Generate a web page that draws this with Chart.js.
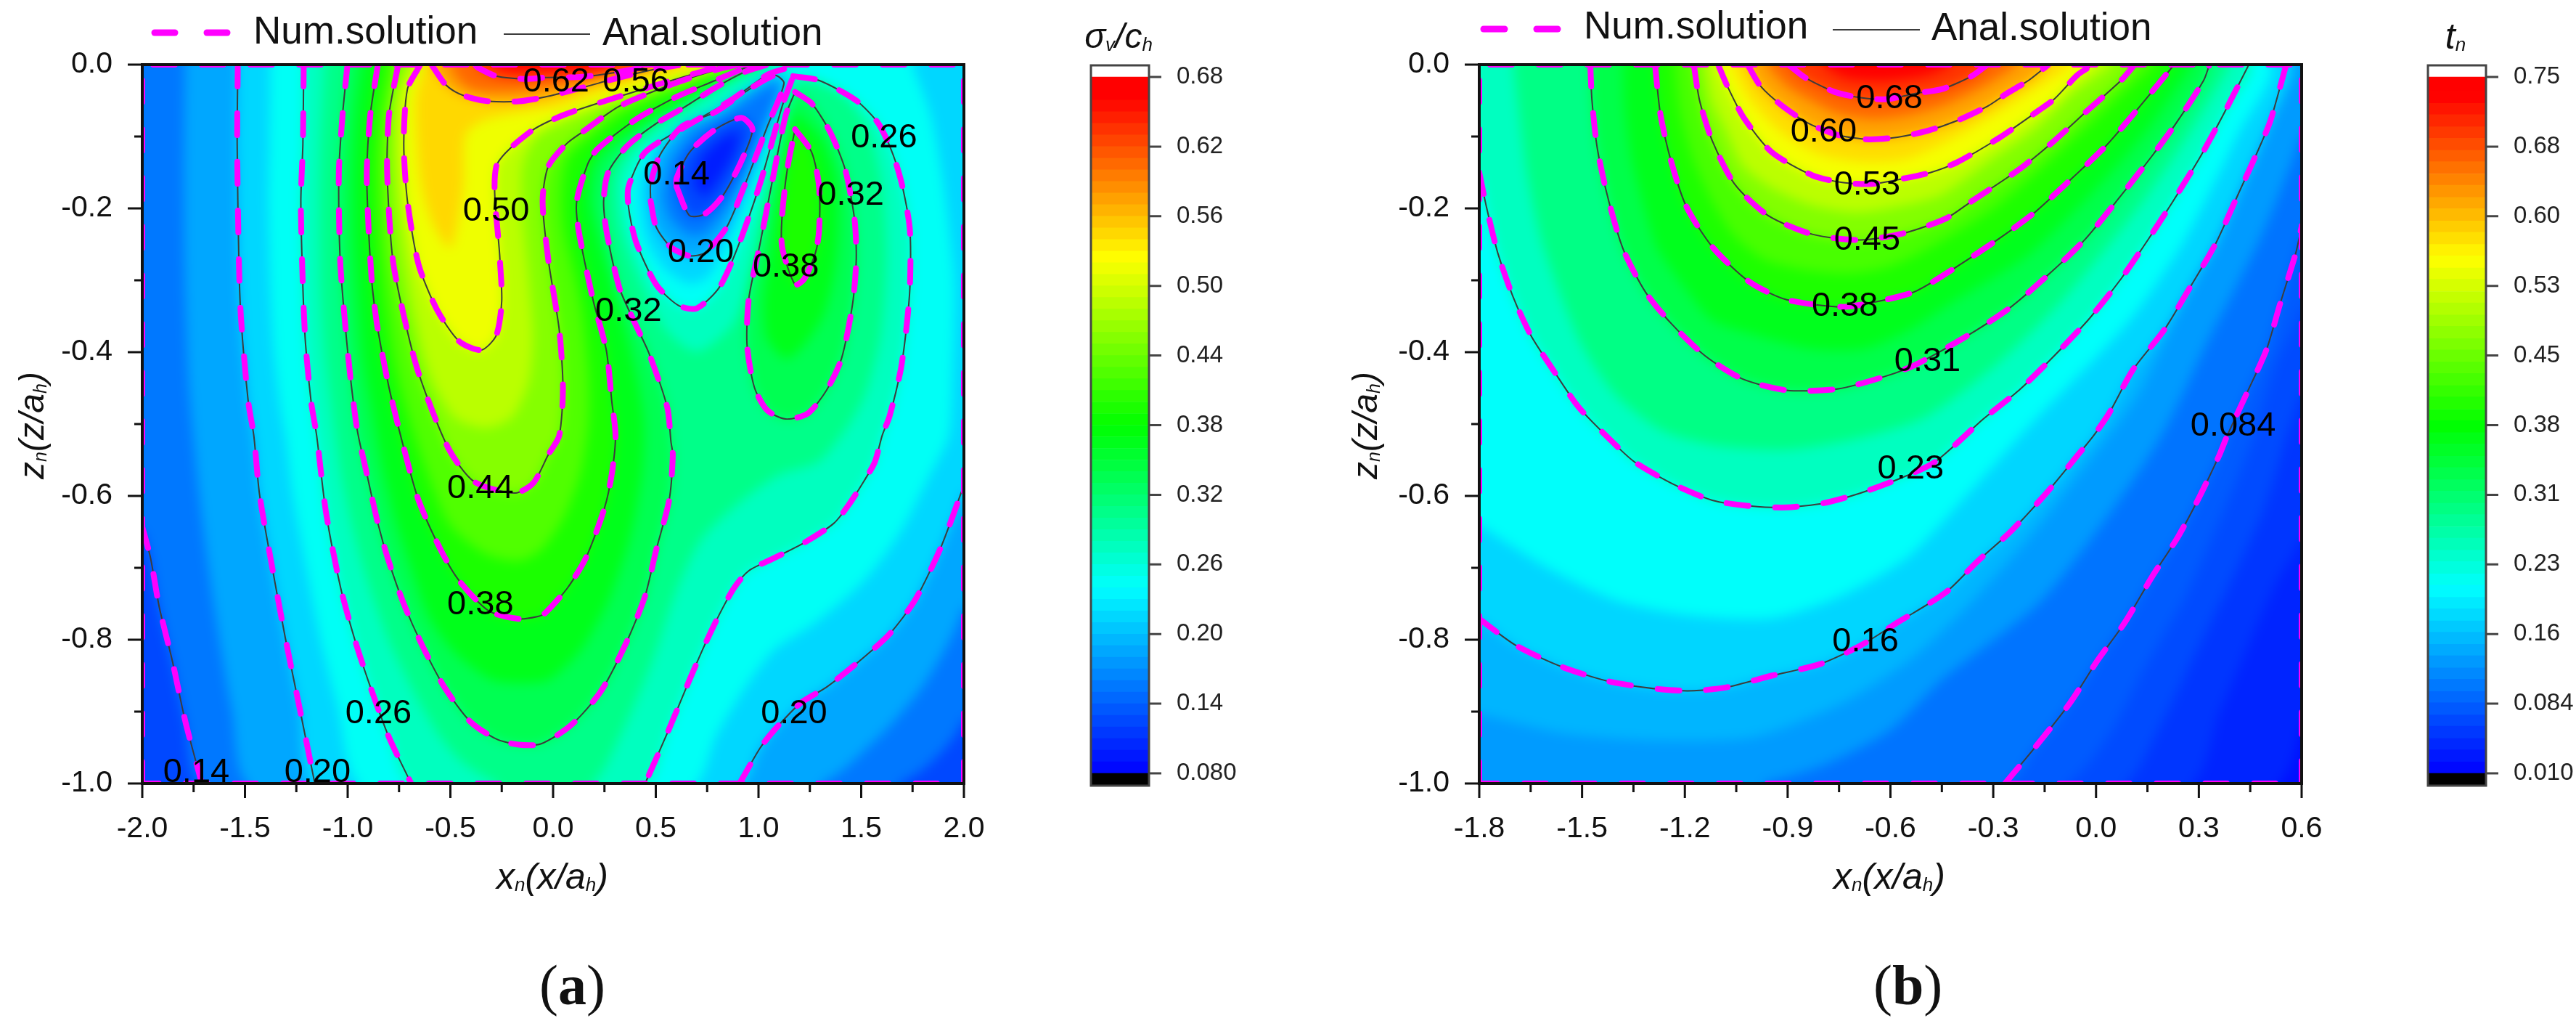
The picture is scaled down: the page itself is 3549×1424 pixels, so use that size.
<!DOCTYPE html>
<html>
<head>
<meta charset="utf-8">
<title>Contours</title>
<style>
  body { margin: 0; background: #fff; }
  canvas { position: absolute; top: 0; }
</style>
<script src="https://cdn.jsdelivr.net/npm/chart.js@4/dist/chart.umd.min.js"></script>
</head>
<body>
<canvas id="panelA" width="1480" height="1424" style="left:0"></canvas>
<canvas id="barA" width="400" height="1424" style="left:1490px"></canvas>
<canvas id="panelB" width="1480" height="1424" style="left:1780px"></canvas>
<canvas id="barB" width="217" height="1424" style="left:3332px"></canvas>
<script>
// ---------- axes ----------
const xTicksA = [-2, -1.75, -1.5, -1.25, -1, -0.75, -0.5, -0.25, 0, 0.25, 0.5, 0.75, 1, 1.25, 1.5, 1.75, 2];
const xLabelsA = ['-2.0', '', '-1.5', '', '-1.0', '', '-0.5', '', '0.0', '', '0.5', '', '1.0', '', '1.5', '', '2.0'];
const xTicksB = [-1.8, -1.65, -1.5, -1.35, -1.2, -1.05, -0.9, -0.75, -0.6, -0.45, -0.3, -0.15, 0, 0.15, 0.3, 0.45, 0.6];
const xLabelsB = ['-1.8', '', '-1.5', '', '-1.2', '', '-0.9', '', '-0.6', '', '-0.3', '', '0.0', '', '0.3', '', '0.6'];
const zTicks = [0, -0.1, -0.2, -0.3, -0.4, -0.5, -0.6, -0.7, -0.8, -0.9, -1];
const zLabels = ['0.0', '', '-0.2', '', '-0.4', '', '-0.6', '', '-0.8', '', '-1.0'];

// ---------- colour bars ----------
const barTicksA = [0.08, 0.14, 0.2, 0.26, 0.32, 0.38, 0.44, 0.5, 0.56, 0.62, 0.68];
const barLabelsA = ['0.080', '0.14', '0.20', '0.26', '0.32', '0.38', '0.44', '0.50', '0.56', '0.62', '0.68'];
const barLevelsA = [0.08, 0.09, 0.1, 0.11, 0.12, 0.13, 0.14, 0.15, 0.16, 0.17, 0.18, 0.19, 0.2, 0.21, 0.22, 0.23, 0.24, 0.25, 0.26, 0.27, 0.28, 0.29, 0.3, 0.31, 0.32, 0.33, 0.34, 0.35, 0.36, 0.37, 0.38, 0.39, 0.4, 0.41, 0.42, 0.43, 0.44, 0.45, 0.46, 0.47, 0.48, 0.49, 0.5, 0.51, 0.52, 0.53, 0.54, 0.55, 0.56, 0.57, 0.58, 0.59, 0.6, 0.61, 0.62, 0.63, 0.64, 0.65, 0.66, 0.67, 0.68];
const barTicksB = [0.01, 0.084, 0.158, 0.232, 0.306, 0.38, 0.454, 0.528, 0.602, 0.676, 0.75];
const barLabelsB = ['0.010', '0.084', '0.16', '0.23', '0.31', '0.38', '0.45', '0.53', '0.60', '0.68', '0.75'];
const barLevelsB = [0.01, 0.022, 0.035, 0.047, 0.06, 0.072, 0.085, 0.097, 0.11, 0.122, 0.135, 0.147, 0.16, 0.172, 0.185, 0.197, 0.21, 0.222, 0.235, 0.247, 0.26, 0.272, 0.285, 0.297, 0.31, 0.322, 0.335, 0.347, 0.36, 0.372, 0.385, 0.397, 0.41, 0.422, 0.435, 0.447, 0.46, 0.472, 0.485, 0.497, 0.51, 0.522, 0.535, 0.547, 0.56, 0.572, 0.585, 0.597, 0.61, 0.622, 0.635, 0.647, 0.66, 0.672, 0.685, 0.697, 0.71, 0.722, 0.735, 0.75];

// rainbow stops: value where blue, cyan, green, yellow, red sit on each bar
const stopValuesA = [0.08, 0.24, 0.38, 0.524, 0.662];
const stopValuesB = [0.01, 0.207, 0.38, 0.557, 0.73];
const stopColors = [[0, 0, 255], [0, 255, 255], [0, 255, 0], [255, 255, 0], [255, 0, 0]];

// ---------- panel a: contour lines [x, z] ----------
const a014 = [[-2,-0.643],[-1.96,-0.686],[-1.917,-0.755],[-1.854,-0.829],[-1.79,-0.914],[-1.71,-1]];
const a020L = [[-1.535,0],[-1.538,-0.11],[-1.53,-0.27],[-1.52,-0.35],[-1.484,-0.469],[-1.457,-0.516],[-1.43,-0.596],[-1.376,-0.686],[-1.304,-0.797],[-1.232,-0.898],[-1.16,-1]];
const a020R = [[0.908,-1],[1.007,-0.951],[1.079,-0.925],[1.205,-0.888],[1.331,-0.866],[1.494,-0.829],[1.638,-0.792],[1.764,-0.744],[1.89,-0.67],[2,-0.585]];
const a026L = [[-1.214,0],[-1.218,-0.11],[-1.228,-0.19],[-1.218,-0.31],[-1.205,-0.389],[-1.178,-0.469],[-1.151,-0.516],[-1.106,-0.622],[-1.034,-0.728],[-0.962,-0.803],[-0.889,-0.866],[-0.8,-0.935],[-0.691,-1]];
const a026R = [[1.169,-0.016],[1.295,-0.022],[1.476,-0.05],[1.584,-0.082],[1.656,-0.126],[1.701,-0.17],[1.737,-0.23],[1.737,-0.31],[1.719,-0.369],[1.692,-0.425],[1.638,-0.489],[1.602,-0.516],[1.566,-0.553],[1.512,-0.58],[1.44,-0.612],[1.367,-0.638],[1.223,-0.665],[1.079,-0.686],[0.953,-0.704],[0.881,-0.728],[0.809,-0.765],[0.737,-0.808],[0.664,-0.856],[0.556,-0.93],[0.448,-1]];
const a026H = [[1.124,-0.006],[1.043,-0.014],[0.863,-0.05],[0.646,-0.086],[0.448,-0.122],[0.367,-0.17],[0.367,-0.198],[0.403,-0.246],[0.502,-0.306],[0.61,-0.335],[0.7,-0.339],[0.809,-0.31],[0.899,-0.254],[1.007,-0.166],[1.115,-0.058],[1.169,-0.016]];
const a032 = [[-1.001,0],[-1.025,-0.07],[-1.043,-0.15],[-1.037,-0.27],[-1.016,-0.349],[-0.989,-0.429],[-0.953,-0.509],[-0.907,-0.569],[-0.853,-0.638],[-0.8,-0.691],[-0.727,-0.75],[-0.637,-0.808],[-0.529,-0.866],[-0.403,-0.914],[-0.277,-0.938],[-0.168,-0.946],[-0.06,-0.945],[0.087,-0.919],[0.232,-0.872],[0.358,-0.803],[0.448,-0.739],[0.502,-0.675],[0.565,-0.606],[0.583,-0.543],[0.574,-0.525],[0.556,-0.477],[0.466,-0.401],[0.394,-0.357],[0.322,-0.31],[0.259,-0.23],[0.246,-0.19],[0.268,-0.15],[0.358,-0.114],[0.502,-0.082],[0.646,-0.058],[0.79,-0.032],[0.935,-0.01],[1.043,0]];
const a032R = [[1.178,-0.038],[1.259,-0.054],[1.349,-0.094],[1.422,-0.146],[1.467,-0.214],[1.476,-0.27],[1.458,-0.333],[1.404,-0.409],[1.331,-0.453],[1.241,-0.485],[1.133,-0.493],[1.043,-0.481],[0.98,-0.449],[0.944,-0.389],[0.953,-0.325],[1.007,-0.25],[1.07,-0.158],[1.133,-0.07],[1.178,-0.038]];
const a038 = [[-0.853,0],[-0.89,-0.07],[-0.907,-0.15],[-0.898,-0.23],[-0.88,-0.31],[-0.853,-0.369],[-0.799,-0.449],[-0.727,-0.533],[-0.655,-0.606],[-0.547,-0.675],[-0.457,-0.718],[-0.313,-0.76],[-0.168,-0.771],[-0.078,-0.768],[-0.039,-0.763],[0.07,-0.728],[0.16,-0.686],[0.25,-0.617],[0.286,-0.569],[0.304,-0.516],[0.286,-0.469],[0.259,-0.397],[0.196,-0.329],[0.124,-0.23],[0.115,-0.19],[0.169,-0.138],[0.214,-0.118],[0.394,-0.078],[0.592,-0.046],[0.79,-0.022],[0.971,0]];
const a038R = [[1.178,-0.09],[1.259,-0.122],[1.295,-0.17],[1.295,-0.23],[1.277,-0.262],[1.223,-0.298],[1.178,-0.306],[1.115,-0.254],[1.115,-0.21],[1.142,-0.142],[1.178,-0.09]];
const a044 = [[-0.754,0],[-0.799,-0.07],[-0.808,-0.15],[-0.781,-0.27],[-0.727,-0.349],[-0.655,-0.429],[-0.511,-0.533],[-0.385,-0.58],[-0.186,-0.596],[-0.096,-0.582],[-0.024,-0.543],[0.03,-0.516],[0.048,-0.449],[0.03,-0.369],[-0.024,-0.27],[-0.051,-0.19],[-0.024,-0.142],[0.066,-0.11],[0.142,-0.094],[0.322,-0.058],[0.592,-0.026],[0.809,-0.006],[0.899,0]];
const a050 = [[-0.646,0],[-0.709,-0.034],[-0.727,-0.11],[-0.709,-0.19],[-0.655,-0.278],[-0.565,-0.341],[-0.457,-0.385],[-0.349,-0.397],[-0.277,-0.377],[-0.25,-0.329],[-0.259,-0.27],[-0.277,-0.142],[-0.114,-0.094],[0.052,-0.07],[0.304,-0.046],[0.646,-0.016],[0.809,-0.003],[0.863,0]];
const a056 = [[-0.592,0],[-0.529,-0.026],[-0.475,-0.038],[-0.403,-0.046],[-0.313,-0.051],[-0.168,-0.051],[-0.039,-0.045],[0.142,-0.032],[0.322,-0.018],[0.502,-0.006],[0.628,0]];
const a062 = [[-0.38,0],[-0.367,-0.004],[-0.277,-0.016],[-0.132,-0.02],[-0.039,-0.018],[0.142,-0.017],[0.322,-0.01],[0.502,0]];
const a020H = [[0.475,-0.19],[0.502,-0.226],[0.574,-0.254],[0.664,-0.266],[0.737,-0.262],[0.845,-0.226],[0.935,-0.166],[1.043,-0.086],[1.124,-0.026],[1.079,-0.015],[0.935,-0.038],[0.79,-0.066],[0.628,-0.086],[0.52,-0.126],[0.475,-0.166],[0.475,-0.19]];
const a014H = [[0.601,-0.17],[0.664,-0.21],[0.737,-0.208],[0.827,-0.182],[0.917,-0.134],[0.971,-0.09],[0.917,-0.074],[0.79,-0.09],[0.664,-0.122],[0.601,-0.158],[0.601,-0.17]];

// panel a: band edges between the drawn contours, used only for the fill
const a017L = [[-1.79,0],[-1.795,-0.15],[-1.79,-0.3],[-1.77,-0.45],[-1.72,-0.6],[-1.65,-0.75],[-1.56,-0.9],[-1.47,-1]];
const a017R = [[1.277,-1],[1.584,-0.935],[1.818,-0.856],[2,-0.744],[2,0]];
const a023L = [[-1.375,0],[-1.38,-0.11],[-1.385,-0.19],[-1.375,-0.31],[-1.36,-0.39],[-1.33,-0.47],[-1.3,-0.52],[-1.265,-0.6],[-1.2,-0.7],[-1.13,-0.8],[-1.05,-0.89],[-0.93,-1]];
const a023R = [[0.682,-1],[0.79,-0.935],[0.935,-0.866],[1.079,-0.813],[1.277,-0.776],[1.512,-0.718],[1.692,-0.649],[1.836,-0.569],[1.926,-0.516],[1.944,-0.43],[1.954,-0.31],[1.927,-0.23],[1.89,-0.15],[1.836,-0.07],[1.746,0]];
const a029 = [[-1.11,0],[-1.13,-0.11],[-1.135,-0.19],[-1.13,-0.31],[-1.11,-0.4],[-1.075,-0.48],[-1.03,-0.57],[-0.97,-0.65],[-0.9,-0.72],[-0.8,-0.8],[-0.68,-0.87],[-0.56,-0.93],[-0.44,-0.97],[-0.25,-1],[0.18,-1],[0.33,-0.93],[0.48,-0.83],[0.6,-0.73],[0.72,-0.66],[0.9,-0.61],[1.1,-0.57],[1.3,-0.55],[1.5,-0.47],[1.59,-0.38],[1.62,-0.27],[1.6,-0.17],[1.53,-0.09],[1.4,-0.04],[1.2,-0.02],[1.15,-0.05],[1.05,-0.17],[0.97,-0.28],[0.88,-0.36],[0.7,-0.4],[0.55,-0.37],[0.42,-0.3],[0.33,-0.23],[0.31,-0.16],[0.38,-0.12],[0.55,-0.075],[0.8,-0.03],[1,0]];
const a035 = [[-0.93,0],[-0.96,-0.07],[-0.975,-0.15],[-0.97,-0.25],[-0.95,-0.33],[-0.925,-0.41],[-0.875,-0.49],[-0.83,-0.56],[-0.76,-0.64],[-0.69,-0.7],[-0.6,-0.77],[-0.47,-0.82],[-0.3,-0.855],[-0.16,-0.86],[-0.02,-0.855],[0.13,-0.815],[0.26,-0.75],[0.37,-0.66],[0.43,-0.57],[0.44,-0.5],[0.41,-0.44],[0.36,-0.38],[0.3,-0.32],[0.21,-0.23],[0.18,-0.19],[0.2,-0.14],[0.27,-0.115],[0.45,-0.08],[0.65,-0.05],[0.85,-0.02],[1,0]];
const a035R = [[1.178,-0.066],[1.304,-0.102],[1.376,-0.158],[1.386,-0.23],[1.367,-0.29],[1.313,-0.349],[1.223,-0.389],[1.133,-0.409],[1.043,-0.381],[1.025,-0.329],[1.061,-0.258],[1.106,-0.17],[1.151,-0.098]];
const a041 = [[-0.8,0],[-0.84,-0.07],[-0.855,-0.15],[-0.84,-0.25],[-0.81,-0.33],[-0.77,-0.41],[-0.72,-0.47],[-0.62,-0.56],[-0.5,-0.64],[-0.33,-0.68],[-0.17,-0.69],[-0.06,-0.675],[0.05,-0.63],[0.13,-0.57],[0.17,-0.5],[0.17,-0.43],[0.13,-0.33],[0.05,-0.23],[0.04,-0.18],[0.07,-0.13],[0.18,-0.1],[0.35,-0.065],[0.6,-0.035],[0.8,-0.012],[0.94,0]];
const a047 = [[-0.7,0],[-0.76,-0.04],[-0.77,-0.11],[-0.755,-0.19],[-0.72,-0.27],[-0.67,-0.35],[-0.6,-0.43],[-0.48,-0.49],[-0.33,-0.505],[-0.2,-0.49],[-0.12,-0.44],[-0.1,-0.38],[-0.12,-0.3],[-0.15,-0.21],[-0.15,-0.14],[-0.08,-0.1],[0.05,-0.08],[0.3,-0.05],[0.6,-0.022],[0.8,-0.003],[0.87,0]];
const a053 = [[-0.623,0],[-0.664,-0.046],[-0.659,-0.11],[-0.637,-0.17],[-0.583,-0.222],[-0.5,-0.254],[-0.44,-0.17],[-0.43,-0.098],[-0.349,-0.078],[-0.168,-0.066],[0.012,-0.058],[0.2,-0.04],[0.4,-0.022],[0.6,-0.005],[0.7,0]];
const a059 = [[-0.5,0],[-0.46,-0.02],[-0.4,-0.033],[-0.3,-0.037],[-0.15,-0.036],[0,-0.03],[0.15,-0.022],[0.3,-0.01],[0.4,-0.003],[0.45,0]];
const a065 = [[-0.3,0],[-0.2,-0.008],[-0.05,-0.008],[0.15,-0.007],[0.3,0]];
const a023H = [[0.421,-0.19],[0.448,-0.238],[0.538,-0.282],[0.664,-0.304],[0.755,-0.294],[0.863,-0.242],[0.971,-0.166],[1.088,-0.074],[1.151,-0.018],[1.079,-0.012],[0.899,-0.044],[0.682,-0.082],[0.502,-0.114],[0.421,-0.158]];
const a017H = [[0.538,-0.182],[0.574,-0.214],[0.664,-0.236],[0.737,-0.234],[0.845,-0.198],[0.935,-0.15],[1.025,-0.086],[1.097,-0.028],[1.007,-0.038],[0.845,-0.07],[0.682,-0.094],[0.574,-0.134]];
const a011H = [[0.682,-0.166],[0.737,-0.182],[0.809,-0.158],[0.881,-0.122],[0.899,-0.094],[0.809,-0.106],[0.718,-0.13]];

const labelsA = [
  ['0.62', 0.015, -0.022], ['0.56', 0.403, -0.022], ['0.14', 0.601, -0.152], ['0.26', 1.611, -0.1],
  ['0.32', 1.449, -0.18], ['0.50', -0.277, -0.202], ['0.20', 0.719, -0.26], ['0.38', 1.133, -0.28],
  ['0.32', 0.367, -0.341], ['0.44', -0.354, -0.588], ['0.38', -0.354, -0.75], ['0.26', -0.85, -0.901],
  ['0.14', -1.737, -0.983], ['0.20', -1.147, -0.983], ['0.20', 1.173, -0.901]
];

// ---------- panel b ----------
const b084 = [[-0.266,-1],[-0.18,-0.951],[-0.076,-0.888],[0.004,-0.829],[0.084,-0.776],[0.164,-0.712],[0.239,-0.657],[0.302,-0.601],[0.36,-0.543],[0.383,-0.516],[0.44,-0.457],[0.497,-0.397],[0.537,-0.333],[0.583,-0.262],[0.6,-0.225]];
const b016 = [[-1.8,-0.771],[-1.693,-0.808],[-1.563,-0.837],[-1.422,-0.858],[-1.271,-0.869],[-1.174,-0.871],[-1.076,-0.866],[-0.946,-0.85],[-0.806,-0.834],[-0.687,-0.808],[-0.579,-0.776],[-0.438,-0.734],[-0.346,-0.691],[-0.248,-0.649],[-0.145,-0.596],[-0.053,-0.543],[-0.007,-0.516],[0.038,-0.485],[0.107,-0.425],[0.199,-0.369],[0.274,-0.31],[0.348,-0.25],[0.417,-0.178],[0.474,-0.118],[0.509,-0.078],[0.555,0]];
const b023 = [[-1.8,-0.15],[-1.779,-0.198],[-1.746,-0.262],[-1.703,-0.321],[-1.649,-0.377],[-1.584,-0.425],[-1.509,-0.477],[-1.411,-0.525],[-1.346,-0.553],[-1.228,-0.585],[-1.12,-0.606],[-1.011,-0.614],[-0.903,-0.616],[-0.795,-0.61],[-0.687,-0.596],[-0.579,-0.577],[-0.471,-0.553],[-0.329,-0.493],[-0.225,-0.453],[-0.122,-0.405],[-0.019,-0.353],[0.073,-0.298],[0.187,-0.218],[0.302,-0.13],[0.371,-0.07],[0.446,0]];
const b031 = [[-1.476,0],[-1.471,-0.05],[-1.455,-0.118],[-1.422,-0.19],[-1.379,-0.258],[-1.314,-0.317],[-1.238,-0.361],[-1.141,-0.405],[-1.033,-0.437],[-0.903,-0.453],[-0.752,-0.451],[-0.611,-0.433],[-0.525,-0.417],[-0.375,-0.377],[-0.248,-0.337],[-0.134,-0.29],[-0.03,-0.242],[0.073,-0.182],[0.165,-0.126],[0.233,-0.082],[0.314,-0.022],[0.331,0]];
const b038 = [[-1.287,0],[-1.271,-0.07],[-1.238,-0.138],[-1.195,-0.198],[-1.119,-0.254],[-1.012,-0.302],[-0.903,-0.327],[-0.741,-0.337],[-0.633,-0.329],[-0.525,-0.315],[-0.406,-0.281],[-0.283,-0.242],[-0.18,-0.206],[-0.088,-0.166],[0.027,-0.114],[0.107,-0.07],[0.187,-0.024],[0.228,0]];
const b045 = [[-1.174,0],[-1.157,-0.05],[-1.12,-0.106],[-1.055,-0.166],[-0.957,-0.21],[-0.828,-0.236],[-0.687,-0.244],[-0.557,-0.234],[-0.438,-0.214],[-0.363,-0.19],[-0.225,-0.146],[-0.122,-0.106],[-0.03,-0.066],[0.073,-0.022],[0.113,0]];
const b053 = [[-1.103,0],[-1.076,-0.03],[-1.028,-0.074],[-0.946,-0.122],[-0.828,-0.154],[-0.741,-0.164],[-0.655,-0.166],[-0.557,-0.158],[-0.482,-0.15],[-0.406,-0.136],[-0.283,-0.102],[-0.168,-0.064],[-0.122,-0.048],[-0.053,-0.014],[-0.007,0]];
const b060 = [[-1.017,0],[-0.979,-0.03],[-0.914,-0.058],[-0.838,-0.082],[-0.752,-0.098],[-0.665,-0.104],[-0.579,-0.101],[-0.492,-0.092],[-0.406,-0.078],[-0.317,-0.058],[-0.26,-0.04],[-0.197,-0.022],[-0.139,0]];
const b068 = [[-0.898,0],[-0.849,-0.018],[-0.763,-0.038],[-0.687,-0.046],[-0.611,-0.048],[-0.525,-0.04],[-0.449,-0.034],[-0.363,-0.016],[-0.317,0]];

// panel b: band edges between the drawn contours, used only for the fill
const b030 = [[0.52,-1],[0.6,-0.9]];
const b046 = [[0.268,-1],[0.36,-0.9],[0.451,-0.8],[0.52,-0.725],[0.6,-0.65]];
const b065 = [[0.073,-1],[0.176,-0.93],[0.279,-0.829],[0.383,-0.728],[0.486,-0.622],[0.555,-0.516],[0.6,-0.447]];
const b075 = [[-0.099,-1],[0.04,-0.93],[0.14,-0.84],[0.26,-0.74],[0.39,-0.6],[0.46,-0.516],[0.52,-0.42],[0.6,-0.33]];
const b120 = [[-1,-1],[-0.8,-0.975],[-0.6,-0.925],[-0.45,-0.855],[-0.17,-0.75],[0.03,-0.63],[0.19,-0.516],[0.33,-0.38],[0.47,-0.25],[0.55,-0.16],[0.6,-0.09]];
const b140 = [[-1.8,-0.903],[-1.55,-0.93],[-1.27,-0.94],[-1,-0.935],[-0.75,-0.89],[-0.55,-0.83],[-0.4,-0.765],[-0.2,-0.66],[-0.02,-0.55],[0.12,-0.46],[0.26,-0.32],[0.4,-0.19],[0.5,-0.09],[0.58,0]];
const b195 = [[-1.8,-0.64],[-1.6,-0.7],[-1.4,-0.745],[-1.2,-0.765],[-0.95,-0.77],[-0.75,-0.74],[-0.55,-0.685],[-0.38,-0.6],[-0.19,-0.5],[0.09,-0.36],[0.25,-0.25],[0.41,-0.1],[0.5,0]];
const b270 = [[-1.7,0],[-1.685,-0.06],[-1.66,-0.15],[-1.62,-0.24],[-1.57,-0.31],[-1.5,-0.39],[-1.4,-0.46],[-1.26,-0.51],[-1.1,-0.53],[-0.9,-0.535],[-0.7,-0.52],[-0.5,-0.49],[-0.3,-0.42],[-0.105,-0.33],[0.12,-0.2],[0.265,-0.1],[0.39,0]];
const b345 = [[-1.38,0],[-1.375,-0.06],[-1.355,-0.13],[-1.32,-0.195],[-1.28,-0.255],[-1.2,-0.31],[-1.12,-0.355],[-1,-0.375],[-0.83,-0.395],[-0.68,-0.395],[-0.55,-0.37],[-0.42,-0.33],[-0.2,-0.265],[0,-0.172],[0.15,-0.09],[0.28,0]];
const b415 = [[-1.23,0],[-1.215,-0.06],[-1.18,-0.125],[-1.13,-0.18],[-1.06,-0.235],[-0.97,-0.27],[-0.85,-0.285],[-0.72,-0.29],[-0.6,-0.28],[-0.47,-0.25],[-0.3,-0.2],[-0.15,-0.14],[0,-0.075],[0.1,-0.03],[0.17,0]];
const b490 = [[-1.14,0],[-1.12,-0.05],[-1.08,-0.09],[-1.03,-0.14],[-0.95,-0.17],[-0.83,-0.195],[-0.7,-0.205],[-0.56,-0.195],[-0.45,-0.18],[-0.3,-0.13],[-0.18,-0.09],[-0.07,-0.04],[0.05,0]];
const b565 = [[-1.06,0],[-1.02,-0.04],[-0.97,-0.07],[-0.9,-0.1],[-0.8,-0.125],[-0.67,-0.135],[-0.55,-0.13],[-0.43,-0.105],[-0.3,-0.07],[-0.15,-0.025],[-0.07,0]];
const b640 = [[-0.96,0],[-0.9,-0.03],[-0.83,-0.05],[-0.75,-0.068],[-0.65,-0.075],[-0.55,-0.07],[-0.44,-0.055],[-0.33,-0.03],[-0.23,0]];
const b710 = [[-0.8,0],[-0.73,-0.018],[-0.62,-0.022],[-0.5,-0.015],[-0.42,0]];

const labelsB = [
  ['0.68', -0.603, -0.046], ['0.60', -0.795, -0.092], ['0.53', -0.668, -0.166], ['0.45', -0.668, -0.242],
  ['0.38', -0.733, -0.334], ['0.31', -0.492, -0.411], ['0.23', -0.541, -0.561], ['0.16', -0.673, -0.801],
  ['0.084', 0.4, -0.501]
];

// ---------- helpers ----------
const FONT = '"Liberation Sans", Arial, sans-serif';
const rev = arr => arr.slice().reverse();

function colorOf(stops, v) {
  let i = 0;
  while (i < stops.length - 2 && v > stops[i + 1]) i++;
  const t = Math.min(1, Math.max(0, (v - stops[i]) / (stops[i + 1] - stops[i])));
  const c = stopColors[i].map((s, k) => Math.round(s + (stopColors[i + 1][k] - s) * t));
  return `rgb(${c[0]},${c[1]},${c[2]})`;
}

// text with italic parts and small subscripts, centred on (x, y)
function richText(ctx, parts, x, y, size, subSize, rotate) {
  ctx.save();
  ctx.translate(x, y);
  if (rotate) ctx.rotate(-Math.PI / 2);
  ctx.textBaseline = 'middle';
  ctx.textAlign = 'left';
  ctx.fillStyle = '#111';
  let w = 0;
  parts.forEach(p => {
    ctx.font = `italic ${p[1] ? subSize : size}px ${FONT}`;
    w += ctx.measureText(p[0]).width;
  });
  let cx = -w / 2;
  parts.forEach(p => {
    ctx.font = `italic ${p[1] ? subSize : size}px ${FONT}`;
    ctx.fillText(p[0], cx, p[1] ? size * 0.2 : 0);
    cx += ctx.measureText(p[0]).width;
  });
  ctx.restore();
}

// soften the steps between the filled bands, edges stretched so the blur does not pick up white
function softenArea(chart, sigma) {
  const { ctx, canvas, chartArea: a } = chart;
  const pad = 40, w = Math.round(a.right - a.left), h = Math.round(a.bottom - a.top);
  const tmp = document.createElement('canvas');
  tmp.width = w + pad * 2;
  tmp.height = h + pad * 2;
  const t = tmp.getContext('2d');
  t.drawImage(canvas, a.left, a.top, w, h, pad, pad, w, h);
  t.drawImage(tmp, pad + 1, pad, 1, h, 0, pad, pad, h);
  t.drawImage(tmp, pad + w - 2, pad, 1, h, pad + w, pad, pad, h);
  t.drawImage(tmp, 0, pad + 1, tmp.width, 1, 0, 0, tmp.width, pad);
  t.drawImage(tmp, 0, pad + h - 2, tmp.width, 1, 0, pad + h, tmp.width, pad);
  ctx.save();
  ctx.beginPath();
  ctx.rect(a.left, a.top, w, h);
  ctx.clip();
  ctx.filter = `blur(${sigma}px)`;
  ctx.drawImage(tmp, a.left - pad, a.top - pad);
  ctx.restore();
}

function fillSet(stops, pts, v) {
  const col = colorOf(stops, v);
  return {
    data: pts.map(p => ({ x: p[0], y: p[1] })), showLine: true, fill: 'shape',
    backgroundColor: col, borderColor: col, borderWidth: 1, pointRadius: 0, tension: 0.25
  };
}
function lineSet(pts) {
  return {
    data: pts.map(p => ({ x: p[0], y: p[1] })), showLine: true, fill: false,
    borderColor: '#3c3c3c', borderWidth: 2, pointRadius: 0, tension: 0.25
  };
}
function dashSet(pts) {
  return {
    data: pts.map(p => ({ x: p[0], y: p[1] })), showLine: true, fill: false,
    borderColor: '#ff00ff', borderWidth: 8, borderDash: [30, 37], borderCapStyle: 'round',
    pointRadius: 0, tension: 0.25
  };
}

function makePanel(id, cfg) {
  const box = [[cfg.xMin, -1], [cfg.xMin, 0], [cfg.xMax, 0], [cfg.xMax, -1], [cfg.xMin, -1]];
  // chart.js paints the first dataset last, so build bottom to top and flip
  const sets = cfg.fills.map(f => fillSet(cfg.stops, f[0], f[1]))
    .concat(cfg.lines.map(lineSet))
    .concat(cfg.lines.map(dashSet))
    .concat([dashSet(box)])
    .reverse();
  const topFillIndex = cfg.lines.length * 2 + 1;

  const decor = {
    id: 'decor',
    afterDatasetDraw(chart, args) {
      if (args.index === topFillIndex) softenArea(chart, cfg.soften);
    },
    afterDatasetsDraw(chart) {
      const { ctx, chartArea: a, scales: { x, y } } = chart;
      ctx.save();
      ctx.strokeStyle = '#111';
      ctx.lineWidth = 4;
      ctx.strokeRect(a.left, a.top, a.right - a.left, a.bottom - a.top);
      ctx.lineWidth = 3;
      ctx.beginPath();
      cfg.xTicks.forEach((v, i) => {
        const px = x.getPixelForValue(v);
        ctx.moveTo(px, a.bottom);
        ctx.lineTo(px, a.bottom + (cfg.xLabels[i] ? 20 : 12));
      });
      zTicks.forEach((v, i) => {
        const py = y.getPixelForValue(v);
        ctx.moveTo(a.left, py);
        ctx.lineTo(a.left - (zLabels[i] ? 20 : 11), py);
      });
      ctx.stroke();

      // contour labels
      ctx.fillStyle = '#000';
      ctx.font = `47px ${FONT}`;
      ctx.textAlign = 'center';
      ctx.textBaseline = 'middle';
      cfg.labels.forEach(l => ctx.fillText(l[0], x.getPixelForValue(l[1]), y.getPixelForValue(l[2]) + 2));

      // legend
      const g = cfg.legend;
      ctx.strokeStyle = '#ff00ff';
      ctx.lineWidth = 9;
      ctx.lineCap = 'round';
      g.dashes.forEach(d => {
        ctx.beginPath();
        ctx.moveTo(d[0] + 4, g.dashY);
        ctx.lineTo(d[1] - 4, g.dashY);
        ctx.stroke();
      });
      ctx.strokeStyle = '#3c3c3c';
      ctx.lineWidth = 2;
      ctx.lineCap = 'butt';
      ctx.beginPath();
      ctx.moveTo(g.line[0], g.lineY);
      ctx.lineTo(g.line[1], g.lineY);
      ctx.stroke();
      ctx.fillStyle = '#111';
      ctx.font = `53px ${FONT}`;
      ctx.textAlign = 'left';
      ctx.fillText('Num.solution', g.numX, g.numY);
      ctx.fillText('Anal.solution', g.analX, g.analY);

      // panel tag
      ctx.textAlign = 'left';
      let tx = cfg.tag.x;
      ctx.font = `78px "Liberation Serif", serif`;
      ctx.fillText('(', tx, cfg.tag.y);
      tx += ctx.measureText('(').width;
      ctx.font = `bold 78px "Liberation Serif", serif`;
      ctx.fillText(cfg.tag.text, tx, cfg.tag.y);
      tx += ctx.measureText(cfg.tag.text).width;
      ctx.font = `78px "Liberation Serif", serif`;
      ctx.fillText(')', tx, cfg.tag.y);
      ctx.restore();

      // axis titles
      richText(ctx, [['x'], ['n', 1], ['(x/a'], ['h', 1], [')']], cfg.xTitle[0], cfg.xTitle[1], 50, 26);
      richText(ctx, [['z'], ['n', 1], ['(z/a'], ['h', 1], [')']], cfg.zTitle[0], cfg.zTitle[1], 48, 25, true);
    }
  };

  return new Chart(document.getElementById(id), {
    type: 'scatter',
    data: { datasets: sets },
    plugins: [decor],
    options: {
      responsive: false, animation: false, devicePixelRatio: 1,
      layout: { padding: { top: 89, right: cfg.padRight, left: 0, bottom: 0 } },
      plugins: { legend: { display: false }, tooltip: { enabled: false } },
      scales: {
        x: {
          type: 'linear', min: cfg.xMin, max: cfg.xMax,
          grid: { display: false }, border: { display: false },
          afterBuildTicks: s => { s.ticks = cfg.xTicks.map(v => ({ value: v })); },
          afterFit: s => { s.height = 345; },
          ticks: {
            autoSkip: false, maxRotation: 0, padding: 30, color: '#111',
            font: { family: FONT, size: 41 },
            callback: (v, i) => cfg.xLabels[i]
          }
        },
        y: {
          type: 'linear', min: -1, max: 0,
          grid: { display: false }, border: { display: false },
          afterBuildTicks: s => { s.ticks = zTicks.map(v => ({ value: v })); },
          afterFit: s => { s.width = cfg.padLeft; },
          ticks: {
            autoSkip: false, padding: 33, color: '#111',
            font: { family: FONT, size: 41 },
            callback: (v, i) => zLabels[i]
          }
        }
      }
    }
  });
}

function makeBar(id, cfg) {
  const bands = [[cfg.min, cfg.levels[0], '#000']];
  cfg.levels.slice(1).forEach((hi, i) => {
    const lo = cfg.levels[i];
    bands.push([lo, hi, colorOf(cfg.stops, (lo + hi) / 2)]);
  });
  bands.push([cfg.levels[cfg.levels.length - 1], cfg.max, '#fff']);

  const decor = {
    id: 'decorBar',
    afterDatasetsDraw(chart) {
      const { ctx, chartArea: a, scales: { y } } = chart;
      ctx.save();
      ctx.strokeStyle = '#444';
      ctx.lineWidth = 3;
      ctx.strokeRect(a.left, a.top, a.right - a.left, a.bottom - a.top);
      ctx.beginPath();
      cfg.ticks.forEach(v => {
        const py = y.getPixelForValue(v);
        ctx.moveTo(a.right, py);
        ctx.lineTo(a.right + 17, py);
      });
      ctx.stroke();
      ctx.restore();
      richText(ctx, cfg.title, cfg.titleX, 53, cfg.titleSize, 26);
    }
  };

  return new Chart(document.getElementById(id), {
    type: 'bar',
    data: {
      labels: ['bar'],
      datasets: bands.map(b => ({
        data: [[b[0], b[1]]], backgroundColor: b[2], borderWidth: 0,
        barPercentage: 1, categoryPercentage: 1
      }))
    },
    plugins: [decor],
    options: {
      responsive: false, animation: false, devicePixelRatio: 1,
      layout: { padding: { top: 90, bottom: 342, left: cfg.left, right: 0 } },
      plugins: { legend: { display: false }, tooltip: { enabled: false } },
      scales: {
        x: { display: false, stacked: true },
        y: {
          position: 'right', min: cfg.min, max: cfg.max,
          grid: { display: false }, border: { display: false },
          afterBuildTicks: s => { s.ticks = cfg.ticks.map(v => ({ value: v })); },
          afterFit: s => { s.width = cfg.axisWidth; },
          ticks: {
            autoSkip: false, padding: 30, color: '#222',
            font: { family: FONT, size: 33 },
            callback: (v, i) => cfg.labels[i]
          }
        }
      }
    }
  });
}

// ---------- panel a ----------
makePanel('panelA', {
  xMin: -2, xMax: 2, xTicks: xTicksA, xLabels: xLabelsA, padLeft: 196, padRight: 152,
  stops: stopValuesA, labels: labelsA, soften: 8,
  lines: [a014, a020L, a020R, a026L, a026R, a026H, a032, a032R, a038, a038R, a044, a050, a056, a062, a020H, a014H],
  fills: [
    [[[-2, -1], [-2, 0], [2, 0], [2, -1]], 0.125],
    [a014.concat([[1.656, -1], [2, -0.903], [2, 0], [-2, 0]]), 0.155],
    [a017L.concat(a017R), 0.185],
    [a020L.concat(a020R, [[2, 0]]), 0.215],
    [a023L.concat(a023R), 0.245],
    [a026L.concat(rev(a026R), [[1.15, 0]]), 0.275],
    [a029, 0.305],
    [a032, 0.335],
    [a032R, 0.335],
    [a035, 0.365],
    [a035R, 0.365],
    [a038, 0.395],
    [a038R, 0.395],
    [a041, 0.425],
    [a044, 0.455],
    [a047, 0.485],
    [a050, 0.515],
    [a053, 0.545],
    [a056, 0.575],
    [a059, 0.605],
    [a062, 0.635],
    [a065, 0.665],
    [a026H, 0.245],
    [a023H, 0.215],
    [a020H, 0.185],
    [a017H, 0.155],
    [a014H, 0.125],
    [a011H, 0.098]
  ],
  legend: {
    dashes: [[209, 245], [281, 317]], dashY: 45, line: [694, 813], lineY: 47,
    numX: 349, numY: 45, analX: 830, analY: 47
  },
  tag: { x: 743, y: 1363, text: 'a' },
  xTitle: [761, 1210], zTitle: [47, 586]
});

makeBar('barA', {
  left: 13, axisWidth: 307, min: 0.06938, max: 0.69, levels: barLevelsA, stops: stopValuesA,
  ticks: barTicksA, labels: barLabelsA,
  title: [['σ'], ['v', 1], ['/c'], ['h', 1]], titleX: 51, titleSize: 48
});

// ---------- panel b (canvas starts at x = 1780) ----------
makePanel('panelB', {
  xMin: -1.8, xMax: 0.6, xTicks: xTicksB, xLabels: xLabelsB, padLeft: 258, padRight: 89,
  stops: stopValuesB, labels: labelsB, soften: 8,
  lines: [b084, b016, b023, b031, b038, b045, b053, b060, b068],
  fills: [
    [[[-1.8, -1], [-1.8, 0], [0.6, 0], [0.6, -1]], 0.022],
    [[[-1.8, -1]].concat(b030, [[0.6, 0], [-1.8, 0]]), 0.038],
    [[[-1.8, -1]].concat(b046, [[0.6, 0], [-1.8, 0]]), 0.052],
    [[[-1.8, -1]].concat(b065, [[0.6, 0], [-1.8, 0]]), 0.068],
    [[[-1.8, -1]].concat(b075, [[0.6, 0], [-1.8, 0]]), 0.08],
    [[[-1.8, -1]].concat(b084, [[0.6, 0], [-1.8, 0]]), 0.1],
    [[[-1.8, -1]].concat(b120, [[0.6, 0], [-1.8, 0]]), 0.13],
    [b140.concat([[-1.8, 0]]), 0.15],
    [b016.concat([[-1.8, 0]]), 0.175],
    [b195.concat([[-1.8, 0]]), 0.21],
    [b023.concat([[-1.8, 0]]), 0.25],
    [b270, 0.29],
    [b031, 0.33],
    [b345, 0.36],
    [b038, 0.4],
    [b415, 0.43],
    [b045, 0.47],
    [b490, 0.51],
    [b053, 0.55],
    [b565, 0.58],
    [b060, 0.62],
    [b640, 0.66],
    [b068, 0.695],
    [b710, 0.73]
  ],
  legend: {
    dashes: [[260, 297], [333, 370]], dashY: 40, line: [745, 865], lineY: 41,
    numX: 402, numY: 38, analX: 881, analY: 40
  },
  tag: { x: 801, y: 1363, text: 'b' },
  xTitle: [823, 1210], zTitle: [104, 586]
});

makeBar('barB', {
  left: 13, axisWidth: 124, min: -0.00312, max: 0.76235, levels: barLevelsB, stops: stopValuesB,
  ticks: barTicksB, labels: barLabelsB,
  title: [['t'], ['n', 1]], titleX: 51, titleSize: 50
});
</script>
</body>
</html>
